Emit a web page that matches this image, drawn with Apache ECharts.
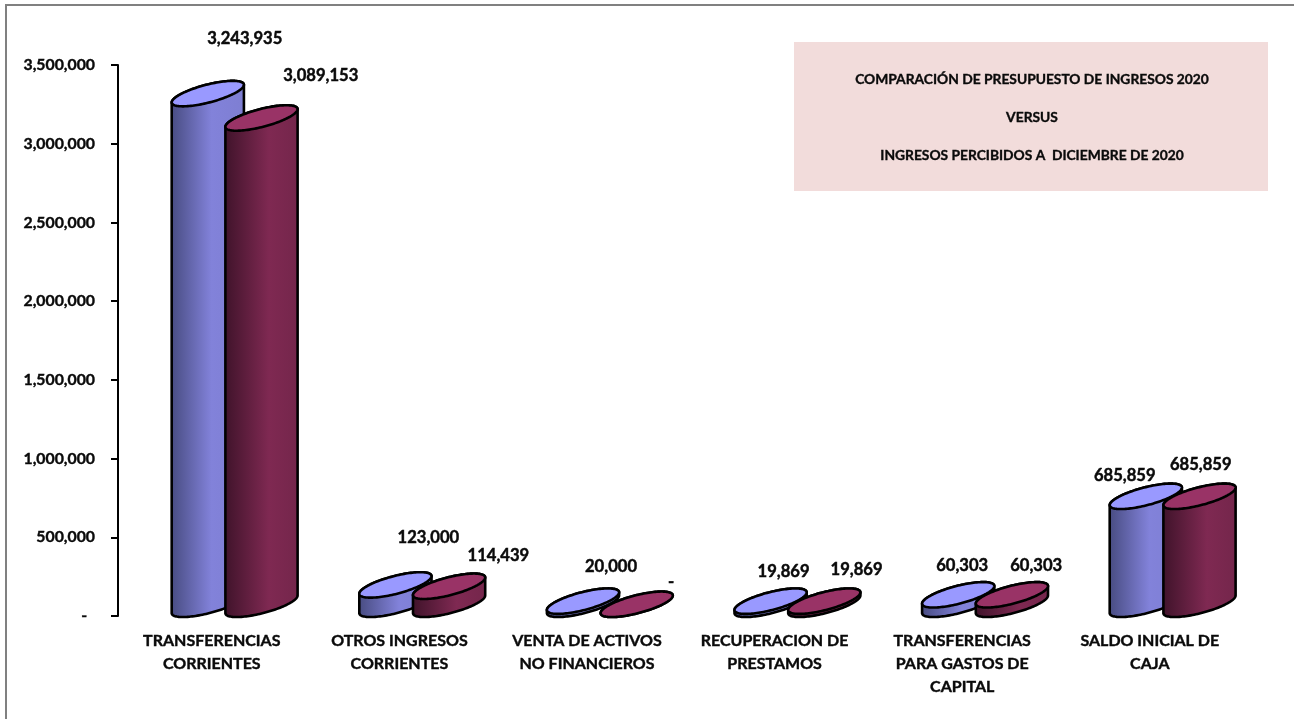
<!DOCTYPE html>
<html>
<head>
<meta charset="utf-8">
<style>html,body{margin:0;padding:0;background:#fff}#c{width:1294px;height:719px}</style>
<script src="https://cdn.jsdelivr.net/npm/echarts@6/dist/echarts.min.js"></script>
</head>
<body>
<div id="c"></div>
<script>
const categories = [
  'TRANSFERENCIAS\nCORRIENTES',
  'OTROS INGRESOS\nCORRIENTES',
  'VENTA DE ACTIVOS\nNO FINANCIEROS',
  'RECUPERACION DE\nPRESTAMOS',
  'TRANSFERENCIAS\nPARA GASTOS DE\nCAPITAL',
  'SALDO INICIAL DE\nCAJA'
];
const presupuesto = [3243935, 123000, 20000, 19869, 60303, 685859];
const percibidos = [3089153, 114439, 0, 19869, 60303, 685859];
const titleLines = [
  'COMPARACIÓN DE PRESUPUESTO DE INGRESOS 2020',
  'VERSUS',
  'INGRESOS PERCIBIDOS A  DICIEMBRE DE 2020'
];

const FONT = 'Lato, "Open Sans", sans-serif';
const INK = '#0a0a0a';
const fmt = v => v === 0 ? '-' : Math.round(v).toLocaleString('en-US');
const fmtAxis = v => v === 0 ? '-\u2002' : fmt(v);

// Hand-placed label offsets from (category centre, value position)
const labelShift = {
  blue: [[33, -67], [29, -59], [24, -46], [9, -41], [0, -40.5], [-25, -32]],
  red: [[109, -54], [99, -42], [84, -34], [82, -43], [74, -40.5], [51, -43]]
};

function cylinder(palette, centerShift, shifts) {
  return function (params, api) {
    const i = api.value(0);
    const v = api.value(1);
    const band = api.size([1, 0])[0];
    const top = api.coord([i, v]);
    const base = api.coord([i, 0]);
    const a = band * 0.1925, p = 8.8, q = 9.2, H = 11.7;
    const cx = top[0] + band * centerShift;
    const cyTop = top[1] - H, cyBase = base[1] - H;
    const pt = (cy, t) => [cx + a * Math.cos(t), cy - p * Math.cos(t) + q * Math.sin(t)];
    const N = 64;
    const body = [], lid = [];
    for (let k = 0; k <= N; k++) body.push(pt(cyBase, Math.PI - Math.PI * k / N));
    for (let k = 0; k <= N; k++) body.push(pt(cyTop, -Math.PI * k / N));
    for (let k = 0; k < 2 * N; k++) lid.push(pt(cyTop, Math.PI * k / N));
    const s = shifts[i];
    return {
      type: 'group',
      children: [
        {
          type: 'polygon', shape: { points: body },
          style: {
            fill: { type: 'linear', x: 0, y: 0, x2: 1, y2: 0, colorStops: palette.side },
            stroke: '#000', lineWidth: 2.6, lineJoin: 'round'
          }
        },
        {
          type: 'polygon', shape: { points: lid },
          style: { fill: palette.top, stroke: '#000', lineWidth: 2.6, lineJoin: 'round' }
        },
        {
          type: 'text', z2: 10,
          style: {
            x: top[0] + s[0], y: top[1] + s[1], text: fmt(v),
            font: 'bold 16.6px ' + FONT, fill: INK,
            stroke: INK, lineWidth: 0.45,
            textAlign: 'center', textVerticalAlign: 'middle'
          }
        }
      ]
    };
  };
}

const bluePalette = {
  top: '#9999FF',
  side: [
    { offset: 0, color: '#474B80' },
    { offset: 0.55, color: '#8282DA' },
    { offset: 1, color: '#7E7ED2' }
  ]
};
const redPalette = {
  top: '#993366',
  side: [
    { offset: 0, color: '#3F132A' },
    { offset: 0.6, color: '#7F2952' },
    { offset: 1, color: '#74264B' }
  ]
};

const chart = echarts.init(document.getElementById('c'), null, { renderer: 'canvas' });
chart.setOption({
  animation: false,
  backgroundColor: '#fff',
  title: {
    text: titleLines.join('\n'),
    left: 1027, top: 55,
    textAlign: 'center',
    textStyle: { fontFamily: FONT, fontWeight: 'bold', fontSize: 13.8, lineHeight: 38.3, color: INK,
      textBorderColor: INK, textBorderWidth: 0.35 }
  },
  graphic: [
    { type: 'rect', z: -2, silent: true, shape: { x: 6, y: 5, width: 1400, height: 1000 },
      style: { fill: 'none', stroke: '#808080', lineWidth: 2 } },
    { type: 'rect', z: -1, silent: true, shape: { x: 794, y: 42, width: 474, height: 149 },
      style: { fill: '#F2DCDB' } }
  ],
  grid: { left: 118, top: 65, width: 1125.6, height: 551, containLabel: false },
  xAxis: {
    type: 'category', data: categories,
    axisLine: { show: false }, axisTick: { show: false },
    axisLabel: {
      interval: 0, margin: 13, lineHeight: 23, color: INK,
      fontFamily: FONT, fontWeight: 'bold', fontSize: 16, verticalAlign: 'top',
      textBorderColor: INK, textBorderWidth: 0.4
    }
  },
  yAxis: {
    type: 'value', min: 0, max: 3500000, interval: 500000,
    splitLine: { show: false },
    axisLine: { show: true, lineStyle: { color: '#000', width: 2 } },
    axisTick: { show: true, length: 7, lineStyle: { color: '#000', width: 2 } },
    axisLabel: {
      margin: 23, color: INK, formatter: fmtAxis, padding: [4, 0, 0, 0],
      fontFamily: FONT, fontWeight: 'bold', fontSize: 15.8,
      textBorderColor: INK, textBorderWidth: 0.4
    }
  },
  series: [
    {
      type: 'custom', name: 'Presupuesto', coordinateSystem: 'cartesian2d',
      renderItem: cylinder(bluePalette, -0.0213, labelShift.blue),
      encode: { x: 0, y: 1 },
      data: presupuesto.map((v, i) => [i, v])
    },
    {
      type: 'custom', name: 'Percibidos', coordinateSystem: 'cartesian2d',
      renderItem: cylinder(redPalette, 0.2649, labelShift.red),
      encode: { x: 0, y: 1 },
      data: percibidos.map((v, i) => [i, v])
    }
  ]
});
</script>
</body>
</html>
